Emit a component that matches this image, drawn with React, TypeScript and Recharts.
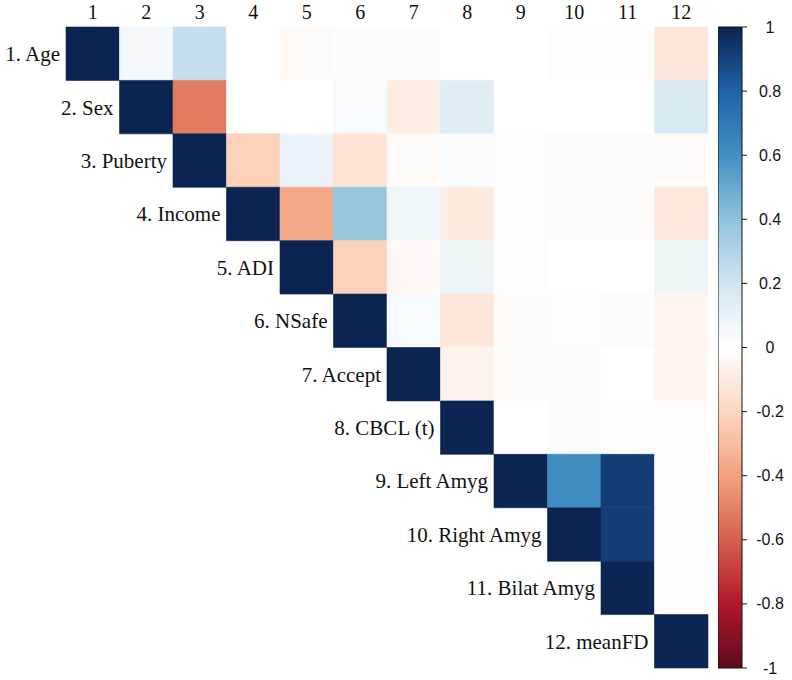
import { ComposedChart, XAxis, YAxis, ReferenceArea, Scatter } from 'recharts'

const rowLabels = ['1. Age', '2. Sex', '3. Puberty', '4. Income', '5. ADI', '6. NSafe', '7. Accept', '8. CBCL (t)', '9. Left Amyg', '10. Right Amyg', '11. Bilat Amyg', '12. meanFD']
const colLabels = ['1', '2', '3', '4', '5', '6', '7', '8', '9', '10', '11', '12']

// upper triangle, each row starts at the diagonal
const corr: number[][] = [
  [1, 0.05, 0.24, 0.0, -0.03, 0.02, 0.02, 0.0, 0.0, -0.01, -0.01, -0.12],
  [1, -0.52, 0.0, 0.0, 0.04, -0.09, 0.14, 0.0, 0.0, 0.0, 0.17],
  [1, -0.22, 0.09, -0.13, -0.02, 0.02, -0.01, -0.02, -0.02, -0.02],
  [1, -0.38, 0.38, 0.07, -0.1, -0.01, -0.02, -0.02, -0.11],
  [1, -0.22, -0.04, 0.08, -0.01, 0.0, 0.0, 0.08],
  [1, 0.04, -0.12, -0.02, -0.01, -0.02, -0.05],
  [1, -0.06, -0.02, 0.02, 0.0, -0.05],
  [1, 0.0, 0.02, 0.01, -0.01],
  [1, 0.62, 0.92, -0.01],
  [1, 0.92, -0.01],
  [1, -0.01],
  [1],
]

const cbTicks = [-1, -0.8, -0.6, -0.4, -0.2, 0, 0.2, 0.4, 0.6, 0.8, 1]

const cmapStops = [-1, -0.8, -0.6, -0.4, -0.2, 0, 0.2, 0.4, 0.6, 0.8, 1]
const cmapColors = ['#5e0a1f', '#b2182b', '#d6604d', '#f2a27f', '#fcd6c1', '#ffffff', '#d2e5f1', '#90c2dd', '#4190c3', '#2063a8', '#0b2452']

function hexToRgb(h: string) {
  return [parseInt(h.slice(1, 3), 16), parseInt(h.slice(3, 5), 16), parseInt(h.slice(5, 7), 16)]
}

function colorFor(v: number) {
  const c = Math.max(-1, Math.min(1, v))
  let i = 0
  while (i < cmapStops.length - 2 && c > cmapStops[i + 1]) i++
  const t = (c - cmapStops[i]) / (cmapStops[i + 1] - cmapStops[i])
  const a = hexToRgb(cmapColors[i])
  const b = hexToRgb(cmapColors[i + 1])
  const m = a.map((x, k) => Math.round(x + (b[k] - x) * t))
  return `rgb(${m[0]},${m[1]},${m[2]})`
}

const serif = '"Liberation Serif", "DejaVu Serif", serif'
const sans = '"Liberation Sans", Arial, sans-serif'

function CbTick({ x, y, payload }: { x?: number; y?: number; payload?: { value: number } }) {
  return (
    <text x={(x ?? 0) + 21} y={y} textAnchor="middle" dominantBaseline="central" fontSize={16} fontFamily={sans} fill="#111">
      {String(payload?.value)}
    </text>
  )
}

export default function App() {
  const cells: { r: number; c: number; v: number; x: number; y: number }[] = []
  corr.forEach((row, r) => row.forEach((v, k) => cells.push({ r, c: r + k, v, x: r + k + 0.5, y: r + 0.5 })))
  const cbData = cbTicks.map(v => ({ x: 0, v }))

  return (
    <div style={{ position: 'fixed', left: 0, top: 0, width: 792, height: 680, background: '#fff' }}>
      <div style={{ position: 'absolute', left: 0, top: 0 }}>
        <ComposedChart width={792} height={680} data={cells} margin={{ top: 0, right: 84, bottom: 12, left: 66 }}>
          <XAxis
            type="number"
            dataKey="x"
            orientation="top"
            domain={[0, 12]}
            ticks={colLabels.map((_, i) => i + 0.5)}
            tickFormatter={(v: number) => colLabels[Math.round(v - 0.5)]}
            height={27}
            axisLine={false}
            tickLine={false}
            tickSize={0}
            tickMargin={8}
            interval={0}
            allowDataOverflow
            tick={{ fontSize: 20, fontFamily: serif, fill: '#111' }}
          />
          <YAxis type="number" dataKey="y" domain={[0, 12]} reversed hide allowDataOverflow />
          {cells.map(({ r, c, v }) => (
            <ReferenceArea
              key={`${r}-${c}`}
              x1={c}
              x2={c + 1}
              y1={r}
              y2={r + 1}
              fill={colorFor(v)}
              fillOpacity={1}
              stroke={colorFor(v)}
              strokeWidth={0.6}
              label={r === c ? { value: rowLabels[r], position: 'left', offset: 6, fontSize: 21, fontFamily: serif, fill: '#111' } : undefined}
            />
          ))}
          <Scatter dataKey="y" isAnimationActive={false} fill="none" shape={() => <g />} />
        </ComposedChart>
      </div>
      <div style={{ position: 'absolute', left: 718, top: 0 }}>
        <ComposedChart width={74} height={680} data={cbData} margin={{ top: 27, right: 0, bottom: 12, left: 0 }}>
          <defs>
            <linearGradient id="cbGrad" x1="0" y1="1" x2="0" y2="0">
              {cmapStops.map((s, i) => (
                <stop key={s} offset={`${((s + 1) / 2) * 100}%`} stopColor={cmapColors[i]} />
              ))}
            </linearGradient>
          </defs>
          <XAxis type="number" dataKey="x" domain={[0, 1]} hide />
          <YAxis
            type="number"
            dataKey="v"
            orientation="right"
            domain={[-1, 1]}
            ticks={cbTicks}
            interval={0}
            width={50}
            axisLine={false}
            tickLine={{ stroke: '#111' }}
            tickSize={5}
            tick={<CbTick />}
          />
          <ReferenceArea y1={-1} y2={1} fill="url(#cbGrad)" fillOpacity={1} stroke="#111" strokeWidth={1} />
          <Scatter dataKey="v" isAnimationActive={false} fill="none" shape={() => <g />} />
        </ComposedChart>
      </div>
    </div>
  )
}
